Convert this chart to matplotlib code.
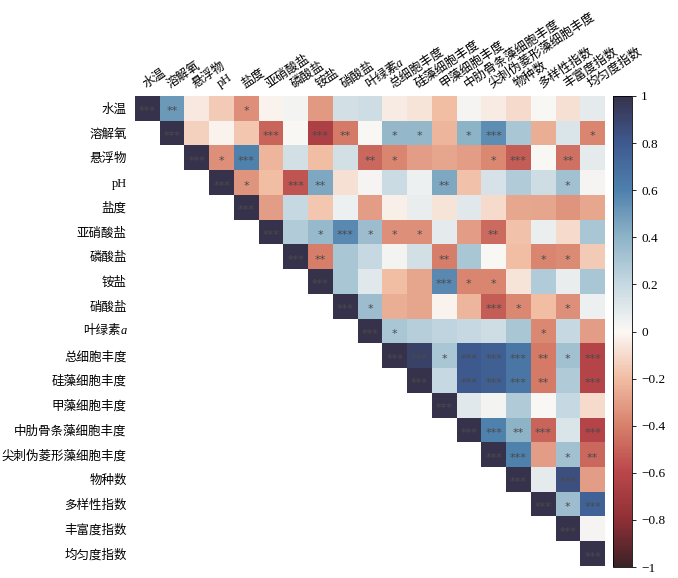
import numpy as np
import matplotlib
matplotlib.use('Agg')
import matplotlib.pyplot as plt
from matplotlib.colors import LinearSegmentedColormap

plt.rcParams['font.family'] = ['Liberation Serif', 'Noto Sans CJK SC']

# variable names (rows and columns); '叶绿素' gets an italic a added later
labels = ['水温', '溶解氧', '悬浮物', 'pH', '盐度', '亚硝酸盐', '磷酸盐', '铵盐', '硝酸盐',
          '叶绿素', '总细胞丰度', '硅藻细胞丰度', '甲藻细胞丰度', '中肋骨条藻细胞丰度',
          '尖刺伪菱形藻细胞丰度', '物种数', '多样性指数', '丰富度指数', '均匀度指数']
chl_idx = 9

# upper triangle of the correlation matrix, row i holds columns i..18
r00 = [1, 0.5, -0.05, -0.15, -0.35, -0.02, 0.03, -0.32, 0.15, 0.17, -0.04, -0.07, -0.2, 0.02, -0.04, -0.1, 0.0, -0.08, 0.08]
r01 = [1, -0.13, -0.02, -0.17, -0.5, 0.0, -0.65, -0.42, 0.0, 0.38, 0.38, -0.22, 0.4, 0.55, 0.3, -0.25, 0.12, -0.38]
r02 = [1, -0.35, 0.6, -0.22, 0.15, -0.2, 0.15, -0.48, -0.38, -0.3, -0.28, -0.3, -0.37, -0.52, 0.0, -0.45, 0.08]
r03 = [1, -0.33, -0.2, -0.55, 0.45, -0.08, 0.02, 0.18, 0.05, 0.45, -0.18, 0.14, 0.27, 0.17, 0.33, 0.02]
r04 = [1, -0.3, 0.2, -0.17, 0.05, -0.3, -0.03, 0.07, -0.07, 0.1, -0.1, -0.27, -0.28, -0.33, -0.27]
r05 = [1, 0.27, 0.37, 0.57, 0.35, -0.35, -0.35, 0.08, -0.3, -0.47, -0.18, 0.06, -0.1, 0.3]
r06 = [1, -0.4, 0.3, 0.2, 0.03, 0.15, -0.4, 0.3, 0.0, -0.2, -0.38, -0.36, -0.15]
r07 = [1, 0.3, 0.1, -0.2, -0.28, 0.57, -0.38, -0.38, -0.07, 0.27, 0.07, 0.3]
r08 = [1, 0.35, -0.25, -0.28, -0.02, -0.22, -0.52, -0.37, -0.2, -0.35, 0.05]
r09 = [1, 0.3, 0.25, 0.22, 0.2, 0.17, 0.3, -0.37, 0.2, -0.3]
r10 = [1, 0.92, 0.3, 0.8, 0.77, 0.65, -0.42, 0.33, -0.62]
r11 = [1, 0.2, 0.8, 0.77, 0.65, -0.42, 0.28, -0.62]
r12 = [1, 0.1, 0.03, 0.28, 0.0, 0.2, -0.1]
r13 = [1, 0.6, 0.4, -0.5, 0.12, -0.62]
r14 = [1, 0.6, -0.3, 0.33, -0.48]
r15 = [1, 0.08, 0.85, -0.3]
r16 = [1, 0.35, 0.75]
r17 = [1, 0.02]
r18 = [1]
rows = [r00, r01, r02, r03, r04, r05, r06, r07, r08, r09, r10, r11, r12, r13, r14, r15, r16, r17, r18]

# significance marks, same layout
s00 = ['***', '**', '', '', '*', '', '', '', '', '', '', '', '', '', '', '', '', '', '']
s01 = ['***', '', '', '', '***', '', '***', '**', '', '*', '*', '', '*', '***', '', '', '', '*']
s02 = ['***', '*', '***', '', '', '', '', '**', '*', '', '', '', '*', '***', '', '**', '']
s03 = ['***', '*', '', '***', '**', '', '', '', '', '**', '', '', '', '', '*', '']
s04 = ['***', '', '', '', '', '', '', '', '', '', '', '', '', '', '']
s05 = ['***', '', '*', '***', '*', '*', '*', '', '', '**', '', '', '', '']
s06 = ['***', '**', '', '', '', '', '**', '', '', '', '*', '*', '']
s07 = ['***', '', '', '', '', '***', '*', '*', '', '', '', '']
s08 = ['***', '*', '', '', '', '', '***', '*', '', '*', '']
s09 = ['***', '*', '', '', '', '', '', '*', '', '']
s10 = ['***', '***', '*', '***', '***', '***', '**', '*', '***']
s11 = ['***', '', '***', '***', '***', '**', '', '***']
s12 = ['***', '', '', '', '', '', '']
s13 = ['***', '***', '**', '***', '', '***']
s14 = ['***', '***', '', '*', '**']
s15 = ['***', '', '***', '']
s16 = ['***', '*', '***']
s17 = ['***', '']
s18 = ['***']
stars = [s00, s01, s02, s03, s04, s05, s06, s07, s08, s09, s10, s11, s12, s13, s14, s15, s16, s17, s18]

n = len(labels)
mat = np.full((n, n), np.nan)
for i in range(n):
    mat[i, i:] = rows[i]
mat = np.ma.masked_invalid(mat)

cmap = LinearSegmentedColormap.from_list('corr', [
    (0.0, '#3b2226'), (0.1, '#8f3036'), (0.2, '#b9474a'), (0.3, '#d7806b'),
    (0.4, '#f1bda3'), (0.5, '#fbf8f5'), (0.6, '#c6d9e2'), (0.7, '#8fb4c8'),
    (0.8, '#4f81ad'), (0.9, '#3e5a90'), (1.0, '#37324c')])

fs = 9
rot = 34

fig = plt.figure(figsize=(6.78, 5.78), dpi=100)
ax = fig.add_axes([135/678, 1-566/578, 470/678, 470/578])
cax = fig.add_axes([613/678, 1-567/578, 19/678, 471/578])

im = ax.imshow(mat, cmap=cmap, vmin=-1, vmax=1, aspect='auto', interpolation='nearest')

for i in range(n):
    for j in range(i, n):
        s = stars[i][j-i]
        if s:
            ax.text(j, i + 0.12, s, ha='center', va='center', fontsize=8,
                    color='#4a4a4a', family='DejaVu Sans')

ax.set_xticks(range(n))
ax.set_yticks(range(n))
ax.xaxis.tick_top()
ylabels = list(labels)
ylabels[chl_idx] = ''
ax.set_xticklabels(labels, rotation=rot, ha='left', va='bottom', rotation_mode='anchor', fontsize=fs)
ax.set_yticklabels(ylabels, fontsize=fs)
ax.tick_params(length=0, pad=6)
ax.tick_params(axis='x', pad=4)
for sp in ax.spines.values():
    sp.set_visible(False)

# italic "a" after 叶绿素 on both axes
ypad = 6
a_w = 4.0
ax.annotate('a', xy=(0, chl_idx), xycoords=('axes fraction', 'data'), xytext=(-ypad, 0),
            textcoords='offset points', ha='right', va='center', fontsize=fs, fontstyle='italic')
ax.annotate('叶绿素', xy=(0, chl_idx), xycoords=('axes fraction', 'data'), xytext=(-ypad - a_w, 0),
            textcoords='offset points', ha='right', va='center', fontsize=fs)
cjk_w = 3 * fs - 1
ax.annotate('a', xy=(chl_idx, 1), xycoords=('data', 'axes fraction'),
            xytext=(cjk_w * np.cos(np.radians(rot)), 4 + cjk_w * np.sin(np.radians(rot))),
            textcoords='offset points', ha='left', va='bottom', rotation=rot,
            rotation_mode='anchor', fontsize=fs, fontstyle='italic')

cb = fig.colorbar(im, cax=cax)
cb.set_ticks([1, 0.8, 0.6, 0.4, 0.2, 0, -0.2, -0.4, -0.6, -0.8, -1])
cb.set_ticklabels(['1', '0.8', '0.6', '0.4', '0.2', '0', '\u22120.2', '\u22120.4',
                   '\u22120.6', '\u22120.8', '\u22121'])
cb.ax.tick_params(labelsize=9.5, length=3, width=0.6)
cb.outline.set_linewidth(0.6)

fig.savefig('out.png', dpi=100)
